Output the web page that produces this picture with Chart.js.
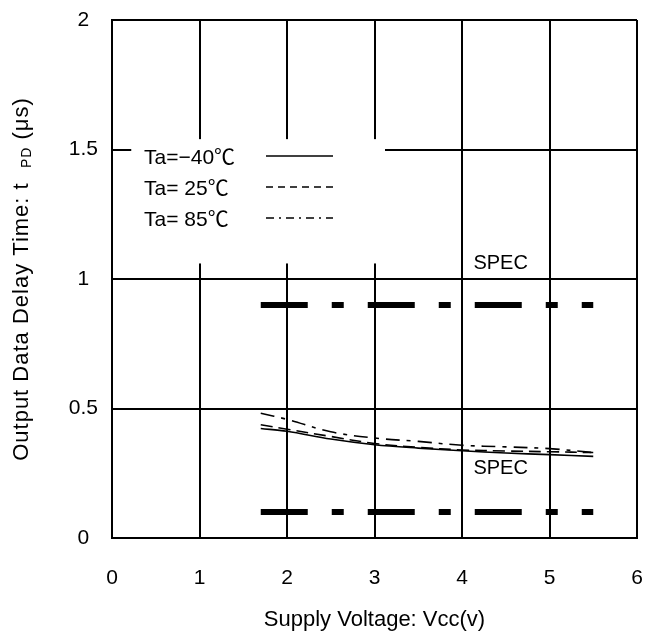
<!DOCTYPE html>
<html>
<head>
<meta charset="utf-8">
<script src="https://cdn.jsdelivr.net/npm/chart.js@4.4.1/dist/chart.umd.min.js"></script>
<style>
  html, body { margin: 0; padding: 0; background: #fff; }
  #wrap { width: 651px; height: 635px; }
</style>
</head>
<body>
<div id="wrap"><canvas id="delayChart" width="651" height="635"></canvas></div>
<script>
// supply voltage samples (V)
const vcc = [1.7, 2, 2.5, 3, 3.5, 4, 4.5, 5, 5.5];
// tPD (us) per temperature
const tpdMinus40 = [0.423, 0.412, 0.382, 0.360, 0.347, 0.337, 0.328, 0.322, 0.315];
const tpd25 = [0.437, 0.420, 0.392, 0.365, 0.350, 0.340, 0.336, 0.333, 0.330];
const tpd85 = [0.482, 0.458, 0.410, 0.386, 0.373, 0.358, 0.352, 0.345, 0.330];
const seriesLabels = ['Ta=\u221240\u2103', 'Ta= 25\u2103', 'Ta= 85\u2103'];
// spec limits
const specRange = [1.7, 5.5];
const specMax = 0.9;
const specMin = 0.1;
const xTicks = [0, 1, 2, 3, 4, 5, 6];
const yTicks = [0, 0.5, 1, 1.5, 2];

const FONT = "'Liberation Sans', Arial, 'Noto Sans CJK JP', sans-serif";

const toPoints = (ys) => vcc.map((x, i) => ({ x: x, y: ys[i] }));
const specLine = (v) => specRange.map(x => ({ x: x, y: v }));

// white legend box, legend entries, SPEC labels and the y title
const annotations = {
    id: 'annotations',
    beforeDatasetsDraw(chart) {
        const { ctx, scales: { x, y } } = chart;
        ctx.save();
        ctx.fillStyle = '#fff';
        const l = x.getPixelForValue(0.22), r = x.getPixelForValue(3.12);
        const t = y.getPixelForValue(1.54), b = y.getPixelForValue(1.06);
        ctx.fillRect(l, t, r - l, b - t);
        ctx.restore();
    },
    afterDatasetsDraw(chart) {
        const { ctx, chartArea, scales: { x, y } } = chart;
        ctx.save();
        ctx.fillStyle = '#000';
        ctx.font = '21px ' + FONT;
        ctx.textBaseline = 'middle';
        ctx.textAlign = 'left';

        // legend
        const legendDash = [[], [7, 5], [8, 5, 2, 5]];
        seriesLabels.forEach((label, i) => {
            const ly = chartArea.top + 138 + i * 31;
            ctx.fillText(label, chartArea.left + 32, ly);
            ctx.beginPath();
            ctx.setLineDash(legendDash[i]);
            ctx.lineWidth = 1.5;
            ctx.strokeStyle = '#000';
            ctx.moveTo(chartArea.left + 154, ly - 2);
            ctx.lineTo(chartArea.left + 221, ly - 2);
            ctx.stroke();
        });
        ctx.setLineDash([]);

        // spec labels
        ctx.font = '20px ' + FONT;
        ctx.fillText('SPEC', x.getPixelForValue(4.13), y.getPixelForValue(1.06));
        ctx.fillText('SPEC', x.getPixelForValue(4.13), y.getPixelForValue(0.27));

        // y title with subscript
        const cy = (chartArea.top + chartArea.bottom) / 2;
        ctx.letterSpacing = '1px';
        const parts = [
            { t: 'Output Data Delay Time: t  ', f: '22px ' + FONT, dy: 0 },
            { t: 'PD', f: '14px ' + FONT, dy: 5 },
            { t: ' (\u03bcs)', f: '22px ' + FONT, dy: 0 }
        ];
        let total = 0;
        parts.forEach(p => { ctx.font = p.f; p.w = ctx.measureText(p.t).width; total += p.w; });
        ctx.translate(22, cy);
        ctx.rotate(-Math.PI / 2);
        let px = -total / 2;
        parts.forEach(p => {
            ctx.font = p.f;
            ctx.fillText(p.t, px, p.dy);
            px += p.w;
        });
        ctx.restore();
    }
};

const lineStyle = { borderColor: '#000', borderWidth: 1.6, pointRadius: 0, fill: false, tension: 0.35 };
const specStyle = { borderColor: '#000', borderWidth: 6, pointRadius: 0, fill: false, borderDash: [47, 24, 12, 24] };
const hiddenTick = 'rgba(0,0,0,0)';

new Chart(document.getElementById('delayChart'), {
    type: 'line',
    data: {
        datasets: [
            Object.assign({ label: seriesLabels[0], data: toPoints(tpdMinus40) }, lineStyle),
            Object.assign({ label: seriesLabels[1], data: toPoints(tpd25), borderDash: [12, 6] }, lineStyle),
            Object.assign({ label: seriesLabels[2], data: toPoints(tpd85), borderDash: [14, 7, 4, 7] }, lineStyle),
            Object.assign({ label: 'SPEC max', data: specLine(specMax) }, specStyle),
            Object.assign({ label: 'SPEC min', data: specLine(specMin) }, specStyle)
        ]
    },
    options: {
        responsive: false,
        animation: false,
        layout: { padding: { top: 20, right: 14, left: 0, bottom: 0 } },
        plugins: { legend: { display: false }, tooltip: { enabled: false } },
        scales: {
            x: {
                type: 'linear',
                min: 0,
                max: 6,
                afterBuildTicks: (axis) => { axis.ticks = xTicks.map(v => ({ value: v })); },
                afterFit: (axis) => { axis.height = 97; },
                grid: { color: '#000', lineWidth: 2, drawTicks: true, tickLength: 26, tickColor: hiddenTick },
                border: { color: '#000', width: 2 },
                ticks: { color: '#000', font: { family: FONT, size: 21 }, padding: 2, maxRotation: 0 },
                title: {
                    display: true,
                    text: 'Supply Voltage: Vcc(v)',
                    color: '#000',
                    font: { family: FONT, size: 22 },
                    padding: { top: 0, bottom: 2 }
                }
            },
            y: {
                type: 'linear',
                min: 0,
                max: 2,
                afterBuildTicks: (axis) => { axis.ticks = yTicks.map(v => ({ value: v })); },
                afterFit: (axis) => { axis.width = 112; },
                grid: { color: '#000', lineWidth: 2, drawTicks: true, tickLength: 14, tickColor: hiddenTick },
                border: { color: '#000', width: 2 },
                ticks: {
                    color: '#000',
                    font: { family: FONT, size: 21 },
                    padding: 0,
                    crossAlign: 'center',
                    callback: (v) => String(v)
                }
            }
        }
    },
    plugins: [annotations]
});
</script>
</body>
</html>
